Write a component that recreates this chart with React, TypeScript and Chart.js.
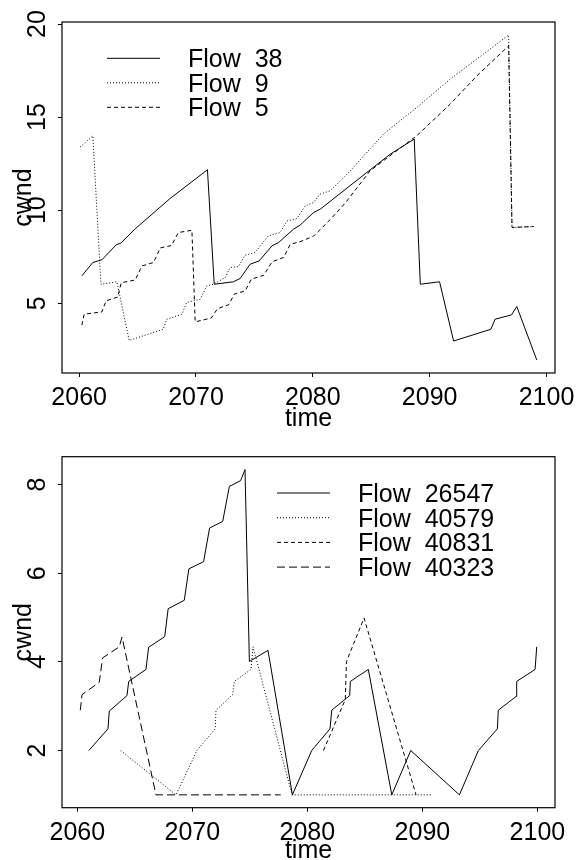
import React, { useEffect, useRef } from 'react';
import { Chart, registerables } from 'chart.js';

Chart.register(...registerables);

// ---- upper panel: three flows ----
const upperTicksX = [2060, 2070, 2080, 2090, 2100];
const upperTicksY = [5, 10, 15, 20];

const flow38Time = [2060.23, 2061.17, 2061.94, 2063.17, 2063.57, 2064.8, 2067.79, 2070.98, 2071.56, 2073.2, 2073.78, 2074.64, 2075.4, 2076.5, 2077.07, 2078.35, 2078.9, 2080.06, 2080.63, 2084.63, 2086.63, 2088.68, 2089.2, 2090.85, 2092.05, 2095.24, 2095.6, 2097.0, 2097.46, 2099.17];
const flow38Cwnd = [6.47, 7.19, 7.33, 8.14, 8.23, 9.0, 10.63, 12.17, 6.02, 6.15, 6.33, 7.1, 7.27, 8.08, 8.26, 8.98, 9.19, 9.87, 10.05, 12.03, 13.01, 13.82, 6.02, 6.15, 2.97, 3.6, 4.14, 4.37, 4.82, 1.95];

const flow9Time = [2060.09, 2061.17, 2061.86, 2063.23, 2064.28, 2067.2, 2067.5, 2068.8, 2069.2, 2070.36, 2070.93, 2071.5, 2072.5, 2072.93, 2073.64, 2074.2, 2075.07, 2075.5, 2076.2, 2077.2, 2077.8, 2078.64, 2079.35, 2080.06, 2080.63, 2081.5, 2083.2, 2086.05, 2088.9, 2091.76, 2096.76, 2097.05, 2098.9];
const flow9Cwnd = [13.4, 14.0, 6.02, 6.15, 3.0, 3.6, 4.14, 4.41, 5.04, 5.21, 5.93, 6.02, 6.38, 6.92, 6.97, 7.58, 7.72, 8.08, 8.62, 8.8, 9.42, 9.55, 10.23, 10.41, 10.86, 11.04, 12.11, 14.09, 15.52, 17.04, 19.41, 9.07, 9.12];

const flow5Time = [2060.23, 2060.43, 2061.94, 2062.31, 2063.3, 2063.6, 2064.8, 2065.37, 2066.37, 2066.94, 2067.9, 2068.5, 2069.65, 2069.93, 2071.3, 2071.85, 2072.8, 2073.3, 2074.2, 2074.75, 2075.8, 2076.5, 2077.5, 2078.07, 2078.9, 2080.06, 2081.5, 2082.8, 2084.9, 2086.6, 2088.9, 2091.76, 2094.05, 2096.76, 2097.05, 2098.9];
const flow5Cwnd = [3.82, 4.41, 4.53, 5.13, 5.33, 6.1, 6.25, 7.0, 7.19, 7.97, 8.1, 8.8, 8.92, 4.0, 4.2, 4.71, 4.92, 5.5, 5.66, 6.3, 6.5, 7.22, 7.46, 8.17, 8.3, 8.6, 9.5, 10.4, 12.11, 12.92, 14.0, 15.7, 17.22, 18.83, 9.07, 9.12];

// ---- lower panel: four flows ----
const lowerTicksX = [2060, 2070, 2080, 2090, 2100];
const lowerTicksY = [2, 4, 6, 8];

const flow26547Time = [2061.0, 2062.67, 2062.78, 2064.32, 2064.47, 2065.97, 2066.2, 2067.6, 2067.9, 2069.3, 2069.7, 2070.98, 2071.5, 2072.64, 2073.22, 2074.2, 2074.58, 2074.96, 2076.58, 2078.7, 2080.38, 2081.97, 2082.12, 2083.68, 2083.74, 2085.3, 2087.34, 2088.99, 2093.22, 2094.87, 2096.52, 2096.6, 2098.15, 2098.2, 2099.8, 2099.94];
const flow26547Cwnd = [2.0, 2.49, 2.89, 3.24, 3.56, 3.83, 4.33, 4.57, 5.2, 5.39, 6.1, 6.26, 7.02, 7.17, 7.96, 8.09, 8.34, 4.01, 4.26, 1.0, 2.0, 2.49, 2.91, 3.24, 3.56, 3.83, 1.0, 2.0, 1.0, 2.0, 2.49, 2.91, 3.22, 3.56, 3.83, 4.34];

const flow40579Time = [2063.77, 2068.58, 2070.4, 2071.99, 2072.06, 2073.5, 2073.65, 2075.1, 2075.28, 2078.67, 2090.9];
const flow40579Cwnd = [2.0, 1.0, 2.0, 2.49, 2.91, 3.26, 3.56, 3.83, 4.34, 1.0, 1.0];

const flow40831Time = [2081.4, 2083.3, 2083.4, 2084.93, 2089.45];
const flow40831Cwnd = [2.0, 3.15, 4.01, 4.99, 1.0];

const flow40323Time = [2060.26, 2060.41, 2061.91, 2062.2, 2063.65, 2063.89, 2066.84, 2077.68];
const flow40323Cwnd = [2.91, 3.26, 3.54, 4.09, 4.34, 4.56, 1.0, 1.0];

const FONT = '"Liberation Sans", Arial, Helvetica, sans-serif';
const SOLID: number[] = [];
const DOTTED = [1, 2];
const DASHED = [4, 3];
const LONGDASH = [8, 4];

const pairs = (t: number[], v: number[]) => t.map((x, i) => ({ x, y: v[i] }));

const line = (label: string, t: number[], v: number[], dash: number[]) => ({
  label,
  data: pairs(t, v),
  borderColor: '#000',
  borderWidth: 1,
  borderDash: dash,
  pointRadius: 0,
  fill: false,
  tension: 0,
});

// R-style frame: box, rotated y labels, axis titles and an in-plot legend
const rFrame = {
  id: 'rFrame',
  afterDraw(chart: any, _args: any, o: any) {
    const { ctx, chartArea: a } = chart;
    const xs = chart.scales.x;
    const ys = chart.scales.y;
    ctx.save();
    ctx.strokeStyle = '#000';
    ctx.lineWidth = 1.2;
    ctx.setLineDash([]);
    ctx.strokeRect(a.left, a.top, a.right - a.left, a.bottom - a.top);

    ctx.fillStyle = '#000';
    ctx.font = `${o.fontSize}px ${FONT}`;
    ctx.textAlign = 'center';
    ctx.textBaseline = 'alphabetic';
    xs.ticks.forEach((t: any) => {
      ctx.fillText(String(t.value), xs.getPixelForValue(t.value), a.bottom + o.xTickGap);
    });
    ctx.fillText(o.xTitle, (a.left + a.right) / 2, a.bottom + o.xTitleGap);

    ys.ticks.forEach((t: any) => {
      ctx.save();
      ctx.translate(o.yTickX, ys.getPixelForValue(t.value));
      ctx.rotate(-Math.PI / 2);
      ctx.fillText(String(t.value), 0, 0);
      ctx.restore();
    });
    ctx.save();
    ctx.translate(o.yTitleX, (a.top + a.bottom) / 2);
    ctx.rotate(-Math.PI / 2);
    ctx.fillText(o.yTitle, 0, 0);
    ctx.restore();

    ctx.textAlign = 'left';
    chart.data.datasets.forEach((ds: any, i: number) => {
      const y = o.legendY + i * o.legendStep;
      ctx.beginPath();
      ctx.lineWidth = 1;
      ctx.setLineDash(ds.borderDash || []);
      ctx.moveTo(o.legendX0, y);
      ctx.lineTo(o.legendX1, y);
      ctx.stroke();
      ctx.setLineDash([]);
      ctx.fillText(ds.label, o.legendTextX, y + o.fontSize * 0.36);
    });
    ctx.restore();
  },
};

function makeConfig(p: any) {
  return {
    type: 'line',
    data: { datasets: p.datasets },
    plugins: [rFrame],
    options: {
      responsive: false,
      animation: false,
      events: [],
      layout: { padding: { top: p.padTop, right: 22, left: 0, bottom: 0 } },
      plugins: {
        legend: { display: false },
        tooltip: { enabled: false },
        rFrame: p.frame,
      },
      scales: {
        x: {
          type: 'linear',
          min: p.xMin,
          max: p.xMax,
          afterBuildTicks: (s: any) => { s.ticks = p.xTicks.map((value: number) => ({ value })); },
          afterFit: (s: any) => { s.height = p.xAxisHeight; },
          ticks: { display: false },
          grid: { drawOnChartArea: false, drawTicks: true, tickLength: 4, color: '#000', lineWidth: 1 },
          border: { display: false },
        },
        y: {
          type: 'linear',
          min: p.yMin,
          max: p.yMax,
          afterBuildTicks: (s: any) => { s.ticks = p.yTicks.map((value: number) => ({ value })); },
          afterFit: (s: any) => { s.width = 62; },
          ticks: { display: false },
          grid: { drawOnChartArea: false, drawTicks: true, tickLength: 4, color: '#000', lineWidth: 1 },
          border: { display: false },
        },
      },
    },
  };
}

function Panel({ top, config }: { top: number; config: any }) {
  const ref = useRef<HTMLCanvasElement>(null);
  useEffect(() => {
    const chart = new Chart(ref.current as HTMLCanvasElement, config);
    return () => chart.destroy();
  }, []);
  return (
    <canvas
      ref={ref}
      width={577}
      height={430}
      style={{ position: 'absolute', left: 0, top, width: 577, height: 430 }}
    />
  );
}

const upperConfig = makeConfig({
  datasets: [
    line('Flow  38', flow38Time, flow38Cwnd, SOLID),
    line('Flow  9', flow9Time, flow9Cwnd, DOTTED),
    line('Flow  5', flow5Time, flow5Cwnd, DASHED),
  ],
  xMin: 2058.53, xMax: 2100.73, yMin: 1.25, yMax: 20.11,
  xTicks: upperTicksX, yTicks: upperTicksY,
  padTop: 22, xAxisHeight: 57,
  frame: {
    fontSize: 25, xTitle: 'time', yTitle: 'cwnd',
    xTickGap: 32, xTitleGap: 53, yTickX: 45, yTitleX: 31,
    legendX0: 107, legendX1: 160, legendTextX: 188, legendY: 58.3, legendStep: 24.5,
  },
});

const lowerConfig = makeConfig({
  datasets: [
    line('Flow  26547', flow26547Time, flow26547Cwnd, SOLID),
    line('Flow  40579', flow40579Time, flow40579Cwnd, DOTTED),
    line('Flow  40831', flow40831Time, flow40831Cwnd, DASHED),
    line('Flow  40323', flow40323Time, flow40323Cwnd, LONGDASH),
  ],
  xMin: 2058.67, xMax: 2101.53, yMin: 0.71, yMax: 8.63,
  xTicks: lowerTicksX, yTicks: lowerTicksY,
  padTop: 26.7, xAxisHeight: 52.3,
  frame: {
    fontSize: 25, xTitle: 'time', yTitle: 'cwnd',
    xTickGap: 32, xTitleGap: 50, yTickX: 45, yTitleX: 31,
    legendX0: 277, legendX1: 330, legendTextX: 358, legendY: 63, legendStep: 24.7,
  },
});

export default function App() {
  return (
    <div style={{ position: 'absolute', left: 0, top: 0, width: 577, height: 860, background: '#fff' }}>
      <Panel top={0} config={upperConfig} />
      <Panel top={430} config={lowerConfig} />
    </div>
  );
}
